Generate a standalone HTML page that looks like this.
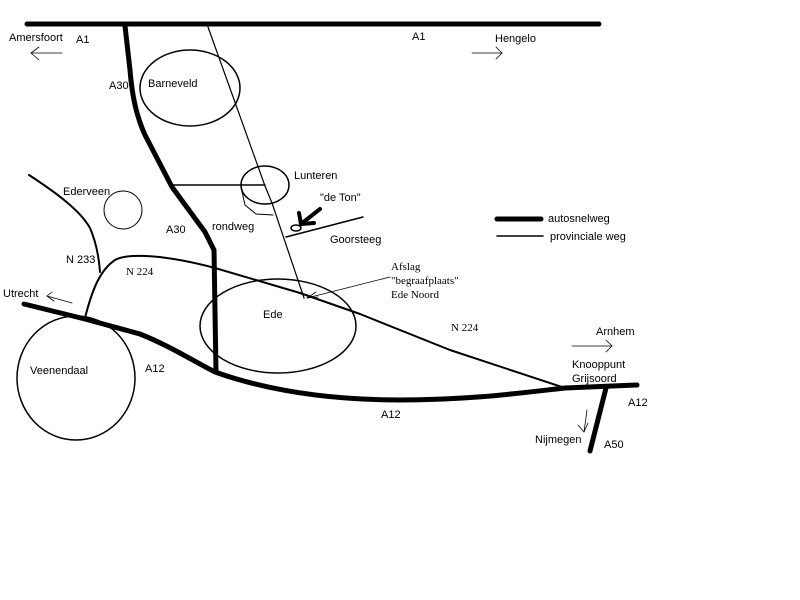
<!DOCTYPE html>
<html><head><meta charset="utf-8"><style>
html,body{margin:0;padding:0;background:#fff;width:800px;height:600px;overflow:hidden}
svg{display:block}
text{font-family:"Liberation Sans",sans-serif;font-size:11px;fill:#000}
.s{font-family:"Liberation Serif",serif;font-size:11px}
</style></head><body>
<svg width="800" height="600" viewBox="0 0 800 600" xmlns="http://www.w3.org/2000/svg">
<g fill="none" stroke="#000" stroke-linejoin="round" stroke-linecap="round">
<!-- motorways -->
<line x1="27" y1="24" x2="599" y2="24" stroke-width="5"/>
<path d="M125,26 L130,70 C132,95 136,115 145,135 L172,187 L205,232 L214,250 L216,372" stroke-width="5"/>
<path d="M24,304 L85,319 L140,334 C170,346 195,362 215,372 C260,388 320,400 400,400 C470,400 520,393 565,388 L637,385" stroke-width="5"/>
<line x1="606" y1="388" x2="590" y2="451" stroke-width="5"/>
<!-- provincial -->
<polyline points="208,27 265,186 272,203 304,298" stroke-width="1.2"/>
<line x1="172" y1="185" x2="265" y2="185" stroke-width="1.5"/>
<polyline points="241,187 245,205 256,214 273,215" stroke-width="1"/>
<path d="M29,175 C55,192 80,210 90,228 C96,242 99,258 100,272" stroke-width="2"/>
<path d="M85,318 C92,290 100,270 115,260 C130,252 170,256 215,268 L300,293 L360,314 L450,350 L565,388" stroke-width="2"/>
<line x1="286" y1="237" x2="363" y2="217" stroke-width="1.5"/>
<!-- circles -->
<ellipse cx="190" cy="88" rx="50" ry="38" stroke-width="1.5"/>
<ellipse cx="265" cy="185" rx="24" ry="19" stroke-width="1.5"/>
<ellipse cx="123" cy="210" rx="19" ry="19" stroke-width="1"/>
<ellipse cx="278" cy="326" rx="78" ry="47" stroke-width="1.5"/>
<ellipse cx="76" cy="378" rx="59" ry="62" stroke-width="1.5"/>
<!-- de Ton marker -->
<ellipse cx="296" cy="228" rx="5" ry="3" stroke-width="1.5"/>
<line x1="320" y1="209" x2="301" y2="224" stroke-width="4"/>
<polyline points="299,213 301,224 314,223" stroke-width="4"/>
<!-- afslag arrow -->
<line x1="390" y1="277" x2="307" y2="298" stroke-width="0.8"/>
<polyline points="316,292 307,298 318,297" stroke-width="0.8"/>
<!-- legend -->
<line x1="497" y1="219" x2="541" y2="219" stroke-width="5"/>
<line x1="497" y1="236" x2="543" y2="236" stroke-width="1.5"/>
<!-- direction arrows -->
<line x1="31" y1="53" x2="62" y2="53" stroke-width="0.8"/>
<polyline points="39,47 31,53 39,60" stroke-width="0.8"/>
<line x1="472" y1="53" x2="502" y2="53" stroke-width="0.8"/>
<polyline points="496,47 502,53 496,59" stroke-width="0.8"/>
<line x1="47" y1="296" x2="72" y2="303" stroke-width="0.8"/>
<polyline points="52,292 47,296 54,301" stroke-width="0.8"/>
<line x1="572" y1="346" x2="612" y2="346" stroke-width="0.8"/>
<polyline points="606,340 612,346 606,352" stroke-width="0.8"/>
<line x1="587" y1="410" x2="584" y2="432" stroke-width="0.8"/>
<polyline points="578,425 584,432 588,423" stroke-width="0.8"/>
</g>
<text x="9" y="41">Amersfoort</text>
<text x="76" y="43">A1</text>
<text x="412" y="40">A1</text>
<text x="495" y="42">Hengelo</text>
<text x="109" y="89">A30</text>
<text x="148" y="87">Barneveld</text>
<text x="294" y="179">Lunteren</text>
<text x="320" y="201">"de Ton"</text>
<text x="63" y="195">Ederveen</text>
<text x="166" y="233">A30</text>
<text x="212" y="230">rondweg</text>
<text x="330" y="243">Goorsteeg</text>
<text x="548" y="222">autosnelweg</text>
<text x="550" y="240">provinciale weg</text>
<text x="66" y="263">N 233</text>
<text x="126" y="275" class="s">N 224</text>
<text x="3" y="297">Utrecht</text>
<text x="391" y="270" class="s">Afslag</text>
<text x="391" y="284" class="s">"begraafplaats"</text>
<text x="391" y="298" class="s">Ede Noord</text>
<text x="263" y="318">Ede</text>
<text x="451" y="331" class="s">N 224</text>
<text x="596" y="335">Arnhem</text>
<text x="572" y="368">Knooppunt</text>
<text x="572" y="382">Grijsoord</text>
<text x="30" y="374">Veenendaal</text>
<text x="145" y="372">A12</text>
<text x="381" y="418">A12</text>
<text x="628" y="406">A12</text>
<text x="535" y="443">Nijmegen</text>
<text x="604" y="448">A50</text>
</svg>
</body></html>
